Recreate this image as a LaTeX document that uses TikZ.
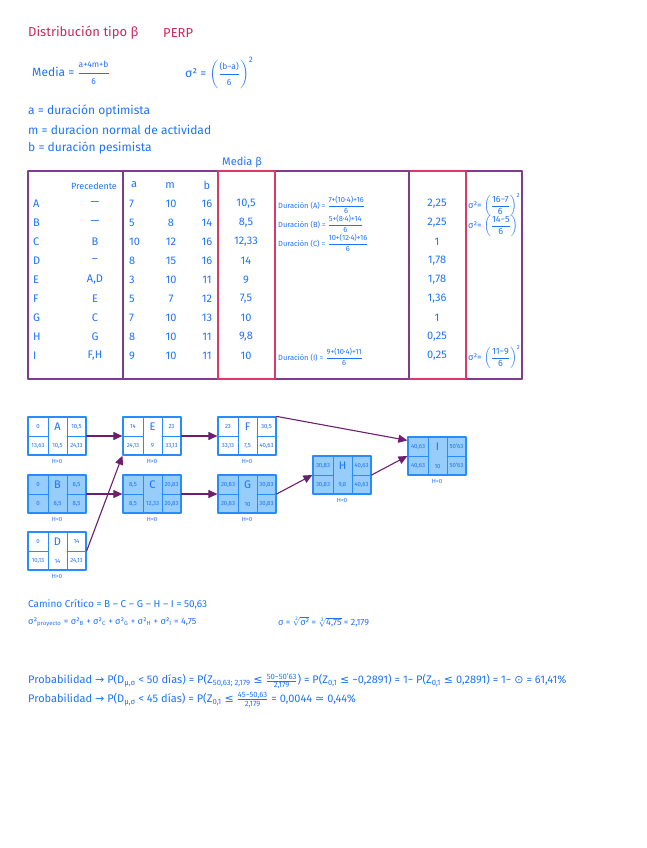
\documentclass[tikz,border=0pt]{standalone}
\usepackage{amsmath}
\usepackage{fontspec}
\setmainfont{Fira Sans}
\newfontfamily\symb{DejaVu Sans}
\usetikzlibrary{arrows.meta}
\definecolor{tinta}{RGB}{30,115,250}
\definecolor{carmin}{RGB}{200,40,90}
\definecolor{lila}{RGB}{125,60,140}
\definecolor{rosa}{RGB}{215,60,105}
\definecolor{borde}{RGB}{40,140,255}
\definecolor{celeste}{RGB}{150,205,250}
\definecolor{uva}{RGB}{110,30,110}
\newcommand{\chicos}[1]{\text{\fontsize{8.5}{9}\selectfont #1}}
\tikzset{
  txt/.style={text=tinta, anchor=west, inner sep=0pt, font=\fontsize{12}{14}\selectfont},
  titulo/.style={txt, text=carmin, font=\fontsize{13}{15}\selectfont},
  celda/.style={txt, anchor=center, font=\fontsize{11}{13}\selectfont},
  mini/.style={txt, font=\fontsize{7.5}{8}\selectfont},
  chico/.style={txt, font=\fontsize{10}{12}\selectfont},
  caja/.style={draw=borde, line width=1.2pt, minimum width=58pt, minimum height=38pt, inner sep=0pt},
  num/.style={text=tinta, inner sep=0pt, font=\fontsize{6}{7}\selectfont},
  letra/.style={text=tinta, inner sep=0pt, font=\fontsize{11}{12}\selectfont},
  flecha/.style={draw=uva, line width=1.1pt, -{Triangle[length=9pt,width=8pt]}},
}
\begin{document}
\begin{tikzpicture}[x=1pt, y=-1pt, line join=round, line cap=round]
  \useasboundingbox (0,0) rectangle (646,848);
  % encabezado
  \node[titulo] (tit) at (28,33) {Distribución tipo β};
  \node[titulo] (perp) at (163,33) {PERP};
  \node[txt] (media) at (32,73) {Media = $\dfrac{\chicos{a+4m+b}}{\chicos{6}}$};
  \node[txt, font=\fontsize{12}{14}\selectfont] (sigma) at (185,73) {σ² = $\left(\dfrac{\chicos{(b−a)}}{\chicos{6}}\right)^{\text{2}}$};
  \node[txt] (defa) at (28,111) {a = duración optimista};
  \node[txt] (defm) at (28,130) {m = duracion normal de actividad};
  \node[txt] (defb) at (28,148) {b = duración pesimista};
  \node[txt, font=\fontsize{11}{13}\selectfont] (mediab) at (222,162) {Media β};

  % tabla
  \foreach \xa/\xb/\c in {28/218/lila, 218/275/rosa, 275/409/lila, 409/466/rosa, 466/522/lila}
    \draw[\c, line width=1.3pt] (\xa,171) -- (\xb,171) (\xa,379) -- (\xb,379);
  \foreach \x/\c in {28/lila, 123/lila, 218/rosa, 275/rosa, 409/lila, 466/rosa, 522/lila}
    \draw[\c, line width=1.3pt] (\x,171) -- (\x,379);

  \node[celda, font=\fontsize{9}{10}\selectfont] (hprec) at (94,186) {Precedente};
  \node[celda] (ha) at (134,185) {a};
  \node[celda] (hm) at (170,186) {m};
  \node[celda] (hb) at (207,185) {b};

  \foreach \l/\p/\a/\m/\b/\mu/\v [count=\i] in {
      A/—/7/10/16/{10,5}/{2,25},
      B/—/5/8/14/{8,5}/{2,25},
      C/B/10/12/16/{12,33}/1,
      D/–/8/15/16/14/{1,78},
      E/{A,D}/3/10/11/9/{1,78},
      F/E/5/7/12/{7,5}/{1,36},
      G/C/7/10/13/10/1,
      H/G/8/10/11/{9,8}/{0,25},
      I/{F,H}/9/10/11/10/{0,25}} {
    \pgfmathsetmacro\yy{204+(\i-1)*19}
    \node[txt, font=\fontsize{11}{13}\selectfont] (act\l) at (33,\yy) {\l};
    \node[celda] (prec\l) at (95,\yy) {\p};
    \node[txt, font=\fontsize{11}{13}\selectfont] (a\l) at (129,\yy) {\a};
    \node[celda] (m\l) at (171,\yy) {\m};
    \node[celda] (b\l) at (207,\yy) {\b};
    \node[celda] (mu\l) at (246,\yy) {\mu};
    \node[celda] (var\l) at (437,\yy) {\v};
  }

  \node[mini] (durA) at (278,205) {Duración (A) = $\dfrac{\text{7+(10·4)+16}}{\text{6}}$};
  \node[mini] (durB) at (278,224) {Duración (B) = $\dfrac{\text{5+(8·4)+14}}{\text{6}}$};
  \node[mini] (durC) at (278,243) {Duración (C) = $\dfrac{\text{10+(12·4)+16}}{\text{6}}$};
  \node[mini] (durI) at (278,357) {Duración (I) = $\dfrac{\text{9+(10·4)+11}}{\text{6}}$};
  \node[txt, font=\fontsize{9}{10}\selectfont] (sigA) at (468,205) {σ²= $\left(\dfrac{\text{16−7}}{\text{6}}\right)^{\text{2}}$};
  \node[txt, font=\fontsize{9}{10}\selectfont] (sigB) at (468,226) {σ²= $\left(\dfrac{\text{14−5}}{\text{6}}\right)$};
  \node[txt, font=\fontsize{9}{10}\selectfont] (sigI) at (468,357) {σ²= $\left(\dfrac{\text{11−9}}{\text{6}}\right)^{\text{2}}$};

  % red de actividades
  \foreach \n/\x/\y/\f/\ti/\tr/\bl/\du/\br/\h in {
      A/28/417/white/0/{10,5}/{13,63}/{10,5}/{24,13}/{H>0},
      B/28/475/celeste/0/{8,5}/0/{8,5}/{8,5}/{H=0},
      D/28/532/white/0/14/{10,13}/14/{24,13}/{H>0},
      E/123/417/white/14/23/{24,13}/9/{33,13}/{H>0},
      C/123/475/celeste/{8,5}/{20,83}/{8,5}/{12,33}/{20,83}/{H=0},
      F/218/417/white/23/{30,5}/{33,13}/{7,5}/{40,63}/{H>0},
      G/218/475/celeste/{20,83}/{30,83}/{20,83}/10/{30,83}/{H=0},
      H/313/456/celeste/{30,83}/{40,63}/{30,83}/{9,8}/{40,63}/{H=0},
      I/408/437/celeste/{40,63}/{50'63}/{40,63}/10/{50'63}/{H=0}} {
    \node[caja, fill=\f] (\n) at (\x+29,\y+19) {};
    \draw[borde, line width=1pt] (\x+20,\y) -- (\x+20,\y+38) (\x+39,\y) -- (\x+39,\y+38)
      (\x,\y+19) -- (\x+20,\y+19) (\x+39,\y+19) -- (\x+58,\y+19);
    \node[num] (\n-ti) at (\x+10,\y+9.5) {\ti};
    \node[letra] (\n-nom) at (\x+29.5,\y+10) {\n};
    \node[num] (\n-tr) at (\x+48.5,\y+9.5) {\tr};
    \node[num] (\n-bl) at (\x+10,\y+28.5) {\bl};
    \node[num] (\n-du) at (\x+29.5,\y+29) {\du};
    \node[num] (\n-br) at (\x+48.5,\y+28.5) {\br};
    \node[num] (\n-h) at (\x+29,\y+44) {\h};
  }
  \draw[flecha] (A.east) -- (E.west);
  \draw[flecha] (B.east) -- (C.west);
  \draw[flecha] (D.east) -- (E.south west);
  \draw[flecha] (E.east) -- (F.west);
  \draw[flecha] (C.east) -- (G.west);
  \draw[flecha] (F.north east) -- ([yshift=-4pt]I.north west);
  \draw[flecha] (G.east) -- (H.west);
  \draw[flecha] (H.east) -- (I.west);

  % resultados
  \node[chico] (camino) at (28,604) {Camino Crítico = B – C – G – H – I = 50,63};
  \node[chico, font=\fontsize{9}{11}\selectfont] (varp) at (28,622) {σ²\textsubscript{proyecto} = σ²\textsubscript{B} + σ²\textsubscript{C} + σ²\textsubscript{G} + σ²\textsubscript{H} + σ²\textsubscript{I} = 4,75};
  \node[chico, font=\fontsize{9}{11}\selectfont] (desv) at (278,622) {σ = $\sqrt[\text{2}]{\text{σ²}}$ = $\sqrt[\text{2}]{\text{4,75}}$ = 2,179};
  \node[chico, font=\fontsize{11}{13}\selectfont] (prob1) at (28,681) {Probabilidad {\symb →} P(D\textsubscript{μ,σ} < 50 días) = P(Z\textsubscript{50,63; 2,179} {\symb ≤} $\frac{\text{50−50'63}}{\text{2,179}}$) = P(Z\textsubscript{0,1} {\symb ≤} −0,2891) = 1− P(Z\textsubscript{0,1} {\symb ≤} 0,2891) = 1− {\symb ⊙} = 61,41\%};
  \node[chico, font=\fontsize{11}{13}\selectfont] (prob2) at (28,700) {Probabilidad {\symb →} P(D\textsubscript{μ,σ} < 45 días) = P(Z\textsubscript{0,1} {\symb ≤} $\frac{\text{45−50,63}}{\text{2,179}}$ = 0,0044 {\symb ≃} 0,44\%};
\end{tikzpicture}
\end{document}
